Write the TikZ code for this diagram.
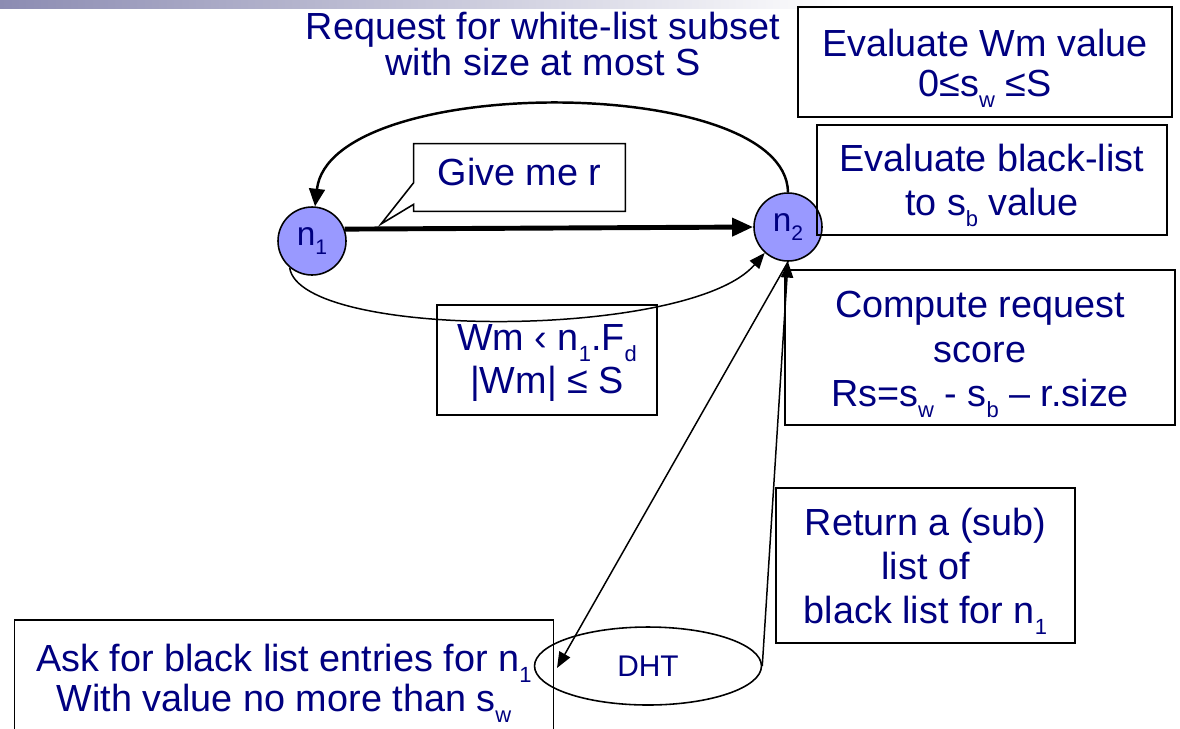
\documentclass[tikz,border=0pt]{standalone}
\usepackage{fontspec}
\setmainfont{Liberation Sans}
\usetikzlibrary{shapes.geometric,arrows.meta,calc}
\definecolor{navytext}{RGB}{0,0,128}
\definecolor{peerfill}{RGB}{153,153,255}
\definecolor{barshade}{RGB}{140,140,178}
% lowered small index, e.g. n\lo{1}
\newcommand\lo[2][12.5]{\raisebox{-0.55ex}{\fontsize{#1}{#1}\selectfont #2}}
\begin{document}
\begin{tikzpicture}[x=0.02cm, y=-0.02cm,
  txt/.style={text=navytext, align=center, inner sep=0pt},
  frame/.style={draw, line width=0.9pt, inner sep=0pt},
  peer/.style={circle, draw, fill=peerfill, line width=0.9pt, minimum size=1.36cm,
    inner sep=0pt, text=navytext, font=\fontsize{19}{19}\selectfont},
  link/.style={line width=0.85pt, -{Triangle[length=9pt,width=7pt]}},
  arcline/.style={line width=1.4pt, -{Triangle[length=10pt,width=9pt]}},
  heavy/.style={line width=2.8pt, -{Triangle[length=12pt,width=10pt]}}]
\useasboundingbox (0,0) rectangle (1180,728);
% title bar
\shade[left color=barshade, right color=white] (0,0) rectangle (850,8);

% peers
\node[peer] (n1) at (312,241) {n\lo[12]{1}};
\node[peer] (n2) at (788,227) {n\lo[12]{2}};

% heading of the request arc
\node[txt, font=\fontsize{21.5}{20}\selectfont] (req) at (543,44)
  {Request for white-list subset\\with size at most S};

% boxes, each with its text set a little below the box centre
\node[frame, minimum width=7.48cm, minimum height=2.2cm] (evalw) at (985,62) {};
\node[txt, font=\fontsize{21.5}{23}\selectfont] (evalwtext) at ($(evalw.center)+(0,6)$)
  {Evaluate Wm value\\0≤s\lo{w} ≤S};

\node[frame, minimum width=7.0cm, minimum height=2.2cm] (evalb) at (992,180) {};
\node[txt, font=\fontsize{21.5}{25}\selectfont] (evalbtext) at ($(evalb.center)+(0,5)$)
  {Evaluate black-list\\to s\lo{b} value};

\node[frame, minimum width=7.8cm, minimum height=3.1cm] (score) at (980,347.5) {};
\node[txt, font=\fontsize{21.5}{25.5}\selectfont] (scoretext) at ($(score.center)+(0,7)$)
  {Compute request\\score\\Rs=s\lo{w} - s\lo{b} – r.size};

\node[frame, minimum width=5.98cm, minimum height=3.1cm] (ret) at (925.5,565.5) {};
\node[txt, font=\fontsize{21.5}{25}\selectfont] (rettext) at ($(ret.center)+(0,6)$)
  {Return a (sub)\\list of\\black list for n\lo{1}};

\node[frame, minimum width=4.4cm, minimum height=2.2cm] (wm) at (547,360) {};
\node[txt, font=\fontsize{21.5}{25}\selectfont] (wmtext) at ($(wm.center)+(0,3)$)
  {Wm ‹ n\lo{1}.F\lo{d}\\|Wm| ≤ S};

\node[frame, minimum width=10.78cm, minimum height=2.44cm] (ask) at (284,681) {};
\node[txt, font=\fontsize{21.5}{21.5}\selectfont] (asktext) at ($(ask.center)+(0,2)$)
  {Ask for black list entries for n\lo{1}\\With value no more than s\lo{w}};

\node[ellipse, draw, line width=0.9pt, minimum width=4.54cm, minimum height=1.56cm,
  text=navytext, font=\fontsize{17}{17}\selectfont] (dht) at (648,666) {DHT};

% callout
\node[txt, execute at begin node={\rule[-6pt]{0pt}{6pt}},
  font=\fontsize{21.5}{21.5}\selectfont, minimum width=4.22cm, minimum height=1.34cm]
  (gm) at (519.5,177.5) {Give me r};
\coordinate (gmtip) at (381,224);
\draw[line width=0.9pt] (gm.north west) -- (gm.north east) -- (gm.south east)
  -- (gm.south west) -- ($(gm.south west)+(0,-7)$) -- (gmtip)
  -- ($(gm.north west)+(0,39)$) -- cycle;

% connectors
\draw[heavy] (n1.20) -- (n2.west);
\draw[arcline] (n2.north) .. controls (786,73) and (330,73) .. (n1.85);
\draw[link] (n1.230) .. controls (300,340) and (690,340) .. (n2.228);
\coordinate (dtip) at (557,668);
\draw[link] (n2.south) -- (dtip);
\draw[link] (dht.east) -- (n2.south);
\end{tikzpicture}
\end{document}
